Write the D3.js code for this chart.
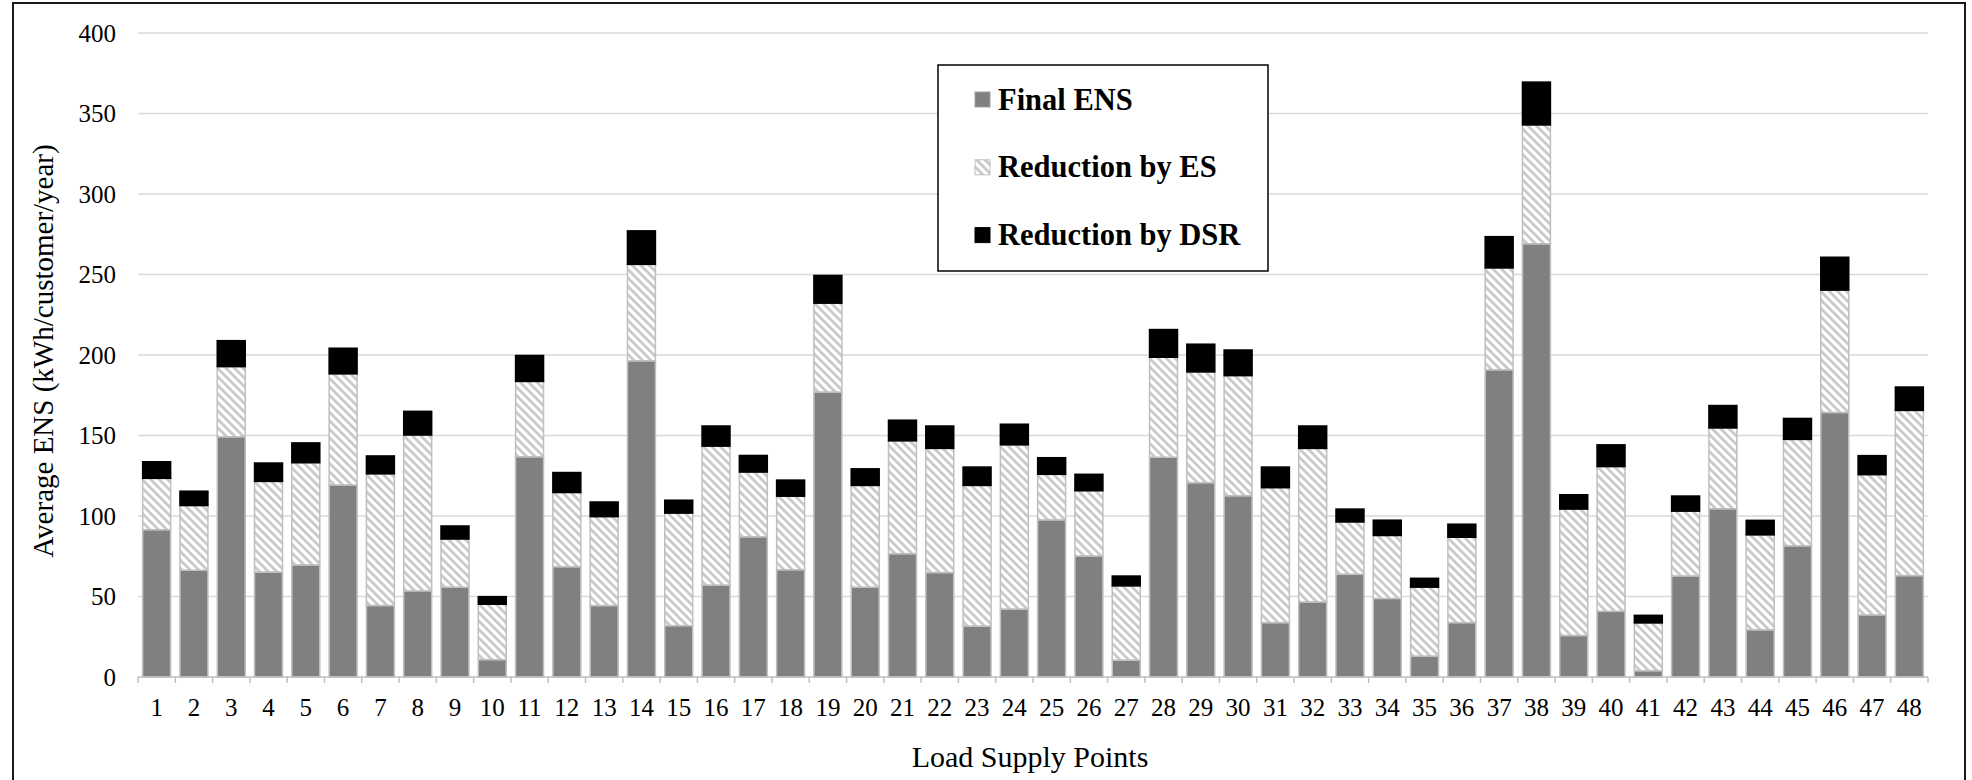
<!DOCTYPE html>
<html>
<head>
<meta charset="utf-8">
<script src="https://cdn.jsdelivr.net/npm/d3@7"></script>
<style>
  html, body { margin: 0; padding: 0; background: #fff; }
  svg { display: block; }
  text { font-family: "Liberation Serif", "Times New Roman", serif; }
</style>
</head>
<body>
<div id="chart"></div>
<script>
const categories = d3.range(1, 49).map(String);
const finalENS = [91.5,66.3,149.2,65.2,69.6,119.3,44.4,53.5,55.8,10.8,136.8,68.5,44.4,196.4,31.9,57.1,87.1,66.6,177.0,55.8,76.6,64.9,31.6,42.2,97.6,75.2,10.5,136.5,120.7,112.6,33.8,46.6,63.8,48.8,13.0,33.8,190.8,269.1,25.8,40.8,3.9,62.8,104.5,29.3,81.5,164.3,38.6,63.0];
const reductionES = [31.9,40.2,43.6,56.3,63.5,69.0,81.8,96.8,29.9,34.4,46.8,46.1,55.2,59.9,69.9,86.3,40.2,45.7,55.2,63.2,70.1,77.1,87.4,102.0,28.3,40.5,46.1,62.1,68.8,74.6,83.8,95.4,32.5,39.1,42.8,53.0,63.3,73.8,78.5,89.9,29.7,40.2,50.2,59.0,66.1,76.0,87.1,102.6];
const reductionDSR = [10.3,8.9,16.1,11.4,12.3,15.9,11.1,14.7,8.1,4.7,16.1,12.4,9.1,20.8,8.0,12.5,10.3,10.0,17.2,10.3,12.8,13.9,11.4,12.8,10.3,10.2,6.1,17.2,17.2,15.9,12.8,13.9,8.0,9.5,5.5,8.1,19.4,26.6,8.9,13.5,4.7,9.4,13.9,9.0,13.0,20.4,11.8,14.5];
const seriesNames = ["Final ENS", "Reduction by ES", "Reduction by DSR"];
const yTicks = [0, 50, 100, 150, 200, 250, 300, 350, 400];
const yTitle = "Average ENS (kWh/customer/year)";
const xTitle = "Load Supply Points";

const W = 1972, H = 780;
const svg = d3.select("#chart").append("svg").attr("width", W).attr("height", H);

const defs = svg.append("defs");
const pat = defs.append("pattern").attr("id", "hatch")
  .attr("patternUnits", "userSpaceOnUse").attr("width", 6).attr("height", 6)
  .attr("patternTransform", "rotate(-45)");
pat.append("rect").attr("width", 6).attr("height", 6).attr("fill", "#ffffff");
pat.append("line").attr("x1", 1.5).attr("y1", 0).attr("x2", 1.5).attr("y2", 6)
  .attr("stroke", "#c4c4c4").attr("stroke-width", 2.6);

// outer frame
svg.append("rect").attr("x", 13).attr("y", 3).attr("width", 1952).attr("height", 800)
  .attr("fill", "none").attr("stroke", "#1a1a1a").attr("stroke-width", 2);

const x = d3.scaleBand().domain(categories).range([138, 1928]).paddingInner(0.25).paddingOuter(0.125);
const y = d3.scaleLinear().domain([0, 400]).range([677, 33]);

// gridlines
svg.append("g").selectAll("line").data(yTicks.filter(d => d > 0)).join("line")
  .attr("x1", 138).attr("x2", 1928)
  .attr("y1", d => y(d)).attr("y2", d => y(d))
  .attr("stroke", "#d9d9d9").attr("stroke-width", 1.5);

// y tick labels
svg.append("g").selectAll("text").data(yTicks).join("text")
  .attr("x", 116).attr("y", d => y(d)).attr("dy", "0.35em")
  .attr("text-anchor", "end").attr("font-size", 25).attr("fill", "#000")
  .text(d => d);

// stacked bars
const rows = categories.map((c, i) => ({ cat: c, f: finalENS[i], es: reductionES[i], dsr: reductionDSR[i] }));
const stack = d3.stack().keys(["f", "es", "dsr"]);
const layers = stack(rows);
const fills = ["#808080", "url(#hatch)", "#000000"];
const strokes = ["#bfbfbf", "#bfbfbf", "#000000"];

layers.forEach((layer, li) => {
  svg.append("g").selectAll("rect").data(layer).join("rect")
    .attr("x", d => x(d.data.cat))
    .attr("width", x.bandwidth())
    .attr("y", d => y(d[1]))
    .attr("height", d => y(d[0]) - y(d[1]))
    .attr("fill", fills[li])
    .attr("stroke", strokes[li])
    .attr("stroke-width", 1.5);
});

// x axis line and ticks
svg.append("line").attr("x1", 138).attr("x2", 1928).attr("y1", y(0)).attr("y2", y(0))
  .attr("stroke", "#bfbfbf").attr("stroke-width", 1.5);
const step = x.step();
const x0 = x.range()[0];
svg.append("g").selectAll("line").data(d3.range(categories.length + 1)).join("line")
  .attr("x1", i => x0 + i * step).attr("x2", i => x0 + i * step)
  .attr("y1", y(0)).attr("y2", y(0) + 6)
  .attr("stroke", "#bfbfbf").attr("stroke-width", 1.5);

// x tick labels
svg.append("g").selectAll("text").data(categories).join("text")
  .attr("x", d => x(d) + x.bandwidth() / 2).attr("y", 716)
  .attr("text-anchor", "middle").attr("font-size", 25).attr("fill", "#000")
  .text(d => d);

// axis titles
svg.append("text").attr("x", 1030).attr("y", 767).attr("text-anchor", "middle")
  .attr("font-size", 30).text(xTitle);
svg.append("text").attr("transform", "translate(53,351) rotate(-90)")
  .attr("text-anchor", "middle").attr("font-size", 29).text(yTitle);

// legend
const lg = svg.append("g");
lg.append("rect").attr("x", 938).attr("y", 65).attr("width", 330).attr("height", 206)
  .attr("fill", "#fff").attr("stroke", "#000").attr("stroke-width", 1.5);
const legFill = ["#808080", "url(#hatch)", "#000000"];
const legStroke = ["#a0a0a0", "#c0c0c0", "#000000"];
seriesNames.forEach((name, i) => {
  const cy = 99 + i * 67.8;
  lg.append("rect").attr("x", 975).attr("y", cy - 7).attr("width", 15).attr("height", 15)
    .attr("fill", legFill[i]).attr("stroke", legStroke[i]).attr("stroke-width", 1);
  lg.append("text").attr("x", 998).attr("y", cy + 10.5).attr("font-size", 30.5)
    .attr("font-weight", "bold").text(name);
});
</script>
</body>
</html>
